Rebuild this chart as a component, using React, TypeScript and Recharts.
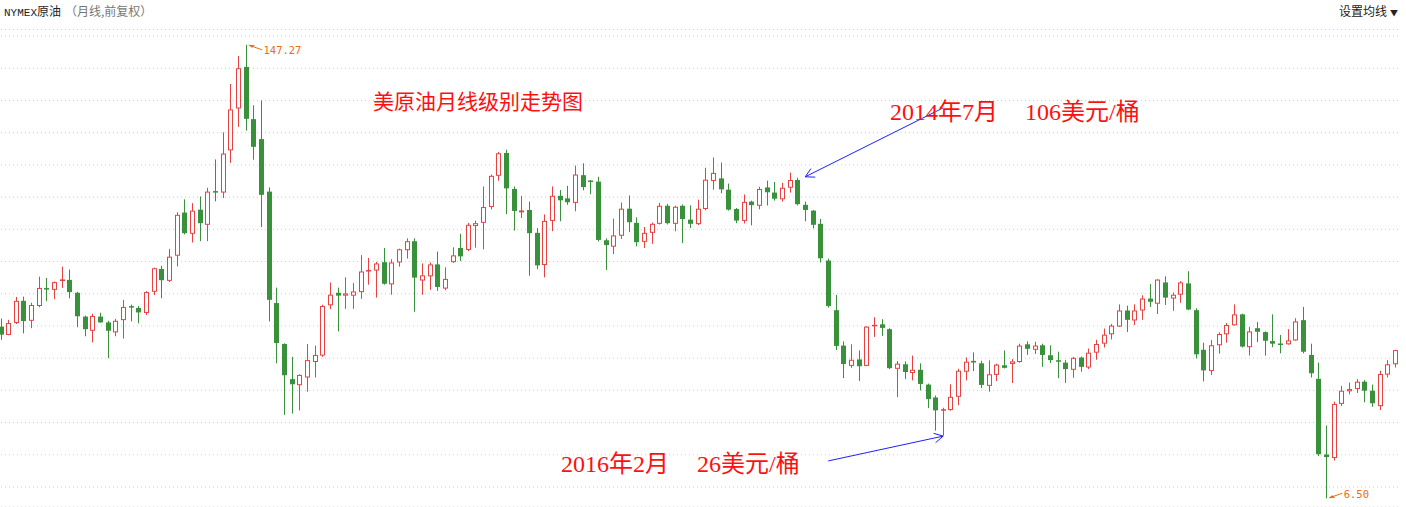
import { ComposedChart, Bar, XAxis, YAxis, CartesianGrid, ReferenceLine, ReferenceDot } from 'recharts';

// first candle is Nov 2005, one candle per month
const START_YEAR = 2005;
const START_MONTH = 11;

const open = [
  59.8, 57.2, 60.9, 67.8, 61.6, 66.2, 71.6, 71.2, 73.8, 74.3,
  70.3, 62.9, 58.5, 62.9, 61.1, 58.0, 61.8, 66.0, 65.6, 64.0,
  70.6, 77.7, 74.0, 81.8, 95.2, 88.6, 96.1, 91.4, 101.7, 101.4,
  114.5, 127.5, 140.4, 124.2, 118.0, 101.7, 67.1, 54.4, 43.5, 41.6,
  44.0, 48.8, 50.8, 66.4, 70.3, 69.4, 69.4, 70.5, 76.9, 77.2,
  79.8, 72.9, 79.7, 83.5, 86.3, 74.1, 75.4, 79.1, 71.6, 79.8,
  84.2, 83.6, 91.0, 92.0, 96.9, 106.6, 113.7, 102.5, 95.1, 96.0,
  88.9, 78.9, 92.6, 100.4, 99.6, 98.2, 106.8, 105.0, 104.8, 86.6,
  84.6, 88.0, 96.4, 92.0, 86.1, 88.9, 91.7, 97.3, 91.7, 97.3,
  93.0, 91.6, 96.3, 105.0, 105.8, 102.3, 96.3, 92.6, 98.6, 97.3,
  103.0, 101.4, 99.3, 102.9, 105.3, 97.6, 95.8, 91.7, 80.3, 64.9,
  53.9, 47.6, 49.6, 47.6, 59.8, 60.5, 59.0, 46.7, 48.1, 45.4,
  46.4, 41.8, 37.8, 33.6, 33.9, 38.0, 45.8, 49.0, 48.4, 41.4,
  44.8, 47.8, 48.2, 48.8, 54.3, 52.6, 54.0, 50.9, 49.2, 48.6,
  46.4, 50.2, 47.1, 51.7, 54.5, 57.4, 59.8, 64.8, 61.7, 64.8,
  68.5, 66.9, 73.5, 68.5, 69.7, 73.2, 64.9, 52.6, 46.0, 54.0,
  57.4, 60.2, 63.6, 53.4, 59.3, 58.1, 55.3, 54.4, 54.3, 55.5,
  61.8, 51.0, 43.6, 20.1, 19.0, 35.8, 39.7, 40.4, 42.7, 39.9,
  35.1, 44.9, 48.1,
];

const high = [
  62.3, 61.9, 69.0, 69.1, 67.2, 75.3, 74.9, 73.8, 78.4, 77.5,
  70.6, 63.2, 63.8, 64.1, 61.6, 62.2, 68.1, 66.6, 66.2, 70.8,
  78.1, 78.7, 83.9, 95.3, 99.3, 98.1, 100.2, 102.9, 111.7, 120.1,
  135.1, 143.8, 147.27, 128.5, 130.0, 103.0, 71.9, 54.6, 50.4, 45.0,
  54.4, 53.9, 66.6, 73.5, 71.9, 75.1, 73.3, 82.0, 81.1, 79.9,
  84.2, 80.7, 84.0, 87.2, 87.2, 79.4, 79.7, 83.1, 78.2, 84.4,
  88.6, 92.0, 92.7, 103.3, 107.0, 114.0, 114.7, 103.3, 100.4, 98.6,
  90.4, 94.6, 103.3, 102.2, 103.5, 109.8, 110.5, 105.2, 106.3, 87.2,
  93.3, 98.3, 100.5, 93.7, 90.7, 92.1, 98.2, 97.9, 97.3, 97.7,
  97.4, 99.2, 109.1, 112.3, 110.7, 104.2, 96.6, 100.8, 98.9, 103.2,
  105.1, 104.7, 104.4, 107.6, 106.0, 98.6, 96.0, 93.2, 80.9, 69.6,
  55.2, 54.3, 52.4, 59.9, 62.7, 62.1, 59.3, 49.1, 49.0, 50.8,
  48.4, 42.1, 38.4, 34.6, 41.9, 46.7, 50.2, 51.8, 49.2, 49.3,
  48.3, 52.4, 49.7, 54.5, 55.2, 55.1, 54.5, 54.0, 52.0, 49.4,
  50.4, 50.5, 53.0, 55.7, 59.2, 60.6, 66.7, 66.3, 66.7, 69.5,
  73.0, 74.5, 75.4, 70.4, 73.9, 77.0, 65.5, 54.8, 55.6, 58.0,
  60.9, 66.7, 63.8, 59.7, 61.2, 58.3, 63.6, 57.2, 59.0, 62.4,
  65.9, 54.5, 48.6, 29.1, 36.5, 41.4, 42.4, 43.5, 43.2, 41.8,
  46.1, 49.4, 52.6,
];

const low = [
  55.7, 57.1, 60.6, 57.7, 59.3, 65.8, 67.7, 68.3, 71.8, 68.6,
  59.6, 56.8, 54.9, 61.0, 50.0, 56.8, 56.1, 61.4, 60.8, 63.4,
  69.6, 68.6, 73.6, 78.5, 88.4, 85.9, 86.3, 86.3, 98.7, 99.7,
  110.6, 121.8, 120.6, 111.6, 90.7, 61.4, 48.4, 32.4, 32.8, 33.8,
  39.6, 44.0, 50.4, 65.2, 58.3, 65.3, 65.3, 68.4, 72.8, 68.8,
  72.8, 69.7, 78.4, 80.9, 64.4, 69.7, 71.2, 70.9, 71.1, 79.6,
  80.1, 83.2, 84.3, 83.8, 96.2, 105.1, 94.7, 89.6, 93.5, 75.6,
  77.6, 75.1, 89.4, 92.5, 97.6, 95.6, 102.1, 100.9, 86.2, 77.4,
  82.3, 87.0, 89.1, 84.7, 84.2, 85.5, 91.5, 91.5, 89.4, 85.7,
  90.4, 91.3, 95.9, 102.3, 101.2, 95.8, 91.9, 91.8, 91.2, 96.2,
  97.4, 98.9, 98.6, 101.4, 97.4, 92.5, 90.3, 79.7, 65.7, 52.5,
  43.8, 47.0, 42.9, 47.5, 56.6, 56.9, 46.6, 37.9, 43.5, 43.1,
  40.0, 34.5, 27.5, 26.0, 33.7, 35.4, 43.1, 46.0, 40.7, 39.6,
  42.9, 46.8, 42.3, 48.6, 51.0, 51.3, 47.3, 48.5, 43.8, 42.3,
  43.9, 45.8, 46.6, 49.5, 53.3, 55.8, 59.7, 58.1, 60.3, 61.9,
  65.9, 63.7, 66.5, 64.7, 67.2, 64.9, 49.9, 42.8, 44.8, 51.4,
  54.8, 60.1, 53.3, 50.8, 55.0, 50.8, 53.4, 51.5, 54.2, 55.4,
  51.5, 44.0, 19.6, 6.5, 18.2, 35.1, 38.8, 39.2, 36.3, 34.9,
  33.9, 44.0, 47.1,
];

const close = [
  57.3, 60.9, 67.8, 61.5, 66.5, 71.8, 71.3, 73.6, 74.3, 70.5,
  63.0, 59.0, 63.1, 61.1, 58.5, 61.6, 65.9, 65.8, 64.2, 70.5,
  77.9, 74.2, 81.5, 94.5, 88.8, 95.8, 91.9, 101.7, 101.6, 113.5,
  127.2, 140.0, 124.3, 115.6, 100.7, 68.1, 54.7, 44.7, 41.9, 44.8,
  49.4, 51.0, 66.2, 69.7, 69.4, 70.1, 70.7, 76.9, 77.2, 79.4,
  73.1, 79.7, 83.8, 86.3, 75.0, 75.7, 79.1, 72.1, 74.6, 81.9,
  81.6, 91.4, 91.9, 96.9, 106.6, 113.6, 102.7, 95.7, 95.7, 88.8,
  78.8, 92.6, 100.4, 99.0, 98.4, 107.0, 103.1, 104.8, 86.7, 85.1,
  88.1, 96.4, 92.2, 86.0, 88.9, 91.7, 97.3, 91.9, 97.0, 93.2,
  91.7, 96.4, 105.4, 107.5, 102.4, 96.1, 92.7, 98.5, 97.5, 102.5,
  101.5, 99.5, 102.9, 105.3, 97.8, 96.0, 91.4, 81.0, 66.2, 53.8,
  48.2, 49.5, 47.5, 59.8, 60.2, 59.4, 46.9, 48.3, 45.7, 46.4,
  42.0, 37.3, 33.8, 34.0, 38.0, 46.1, 48.9, 48.5, 41.7, 45.0,
  48.0, 47.0, 49.0, 53.9, 52.9, 53.9, 51.0, 49.4, 48.8, 46.6,
  50.1, 47.3, 51.7, 54.4, 57.3, 60.1, 64.8, 61.9, 64.8, 68.5,
  67.5, 74.4, 68.8, 69.7, 73.5, 65.1, 51.2, 46.2, 54.0, 57.5,
  60.3, 63.6, 53.6, 58.3, 58.2, 55.4, 54.5, 54.3, 55.5, 61.4,
  52.0, 45.3, 20.2, 19.3, 35.8, 39.9, 40.4, 42.7, 39.9, 36.0,
  45.1, 48.1, 52.5,
];

const gridTicks = [10, 20, 30, 40, 50, 60, 70, 80, 90, 100, 110, 120, 130, 140, 150];

const months = open.map((_, i) => {
  const m = START_MONTH - 1 + i;
  return `${START_YEAR + Math.floor(m / 12)}-${String((m % 12) + 1).padStart(2, '0')}`;
});

const data = months.map((month, i) => ({
  month,
  open: open[i],
  high: high[i],
  low: low[i],
  close: close[i],
}));

const UP = '#e8413f';
const DOWN = '#3a913c';
const MARK = '#f06a10';

// one candle: the bar spans low..high, open/close placed on the same pixel scale
function Candle(props: any) {
  const { x, y, width, height, payload } = props;
  if (x == null || y == null) return null;
  const top = Math.min(y, y + height);
  const bottom = Math.max(y, y + height);
  const cx = Math.round(x + width / 2) + 0.5;
  const range = payload.high - payload.low;
  const k = range > 0 ? (bottom - top) / range : 0;
  const yo = top + (payload.high - payload.open) * k;
  const yc = top + (payload.high - payload.close) * k;
  const up = payload.close >= payload.open;
  const color = up ? UP : DOWN;
  const bTop = Math.min(yo, yc);
  const bH = Math.abs(yc - yo);
  return (
    <g>
      <line x1={cx} y1={top} x2={cx} y2={bottom} stroke={color} strokeWidth={1} />
      {bH < 2 ? (
        <rect x={cx - 2.5} y={bTop - 0.5} width={5} height={Math.max(bH, 1.5)} fill={color} />
      ) : up ? (
        <rect x={cx - 2} y={bTop + 0.5} width={4} height={bH - 1} fill="#fff" stroke={color} strokeWidth={1} />
      ) : (
        <rect x={cx - 2.5} y={bTop} width={5} height={bH} fill={color} />
      )}
    </g>
  );
}

function Arrow(props: any) {
  const { x1, y1, x2, y2 } = props;
  const ang = Math.atan2(y1 - y2, x1 - x2);
  const len = 10;
  const s = 0.5;
  const a = `${x2 + len * Math.cos(ang - s)},${y2 + len * Math.sin(ang - s)}`;
  const b = `${x2 + len * Math.cos(ang + s)},${y2 + len * Math.sin(ang + s)}`;
  return (
    <g stroke="#1f1fff" strokeWidth={1} fill="none">
      <line x1={x1} y1={y1} x2={x2} y2={y2} />
      <polyline points={`${a} ${x2},${y2} ${b}`} />
    </g>
  );
}

function HighMark(props: any) {
  const { cx, cy } = props;
  return (
    <g>
      <polygon points={`${cx + 2},${cy} ${cx + 9},${cy + 0.5} ${cx + 6},${cy + 3}`} fill={MARK} />
      <line x1={cx + 6} y1={cy + 1.5} x2={cx + 16} y2={cy + 5} stroke={MARK} strokeWidth={1} />
      <text x={cx + 17.5} y={cy + 9.5} fill={MARK} fontSize={10.5} fontFamily="DejaVu Sans Mono, monospace">
        147.27
      </text>
    </g>
  );
}

function LowMark(props: any) {
  const { cx, cy } = props;
  return (
    <g>
      <polygon points={`${cx + 2},${cy} ${cx + 9},${cy - 0.5} ${cx + 6},${cy - 3}`} fill={MARK} />
      <line x1={cx + 6} y1={cy - 1.5} x2={cx + 16} y2={cy - 5} stroke={MARK} strokeWidth={1} />
      <text x={cx + 17.5} y={cy} fill={MARK} fontSize={10.5} fontFamily="DejaVu Sans Mono, monospace">
        6.50
      </text>
    </g>
  );
}

const noteStyle: React.CSSProperties = {
  position: 'absolute',
  color: '#ff1010',
  fontSize: 24,
  lineHeight: '26px',
  whiteSpace: 'pre',
  fontFamily: '"Liberation Serif", "Noto Sans CJK SC", serif',
};

export default function App() {
  return (
    <div
      style={{
        position: 'absolute',
        left: 0,
        top: 0,
        width: 1406,
        height: 507,
        overflow: 'hidden',
        background: '#fff',
        fontFamily: '"Noto Sans CJK SC", sans-serif',
      }}
    >
      <div style={{ position: 'absolute', left: -2.53, top: 0 }}>
        <ComposedChart width={1402} height={507} data={data} margin={{ top: 29.56, right: 0, bottom: 0, left: 0 }}>
          <CartesianGrid horizontal vertical={false} stroke="#cccccc" strokeDasharray="1 3" />
          <XAxis dataKey="month" type="category" hide />
          <YAxis domain={[3.8, 152]} ticks={gridTicks} interval={0} hide allowDataOverflow />
          <Bar dataKey={(d: any) => [d.low, d.high]} barSize={5} shape={<Candle />} isAnimationActive={false} />
          <ReferenceLine
            segment={[{ x: months[123], y: 127.7 }, { x: months[105], y: 106.3 }]}
            shape={<Arrow />}
            ifOverflow="visible"
          />
          <ReferenceLine
            segment={[{ x: months[108], y: 18.1 }, { x: months[123], y: 25.8 }]}
            shape={<Arrow />}
            ifOverflow="visible"
          />
          <ReferenceDot x={months[32]} y={147.27} r={0} shape={<HighMark />} ifOverflow="visible" />
          <ReferenceDot x={months[173]} y={6.5} r={0} shape={<LowMark />} ifOverflow="visible" />
        </ComposedChart>
      </div>

      <div style={{ position: 'absolute', left: 4, top: 3, fontSize: 12, lineHeight: '16px', color: '#222' }}>
        <span style={{ fontFamily: '"Liberation Mono", monospace', fontSize: 11 }}>NYMEX</span>
        <span>原油</span>
        <span style={{ color: '#777', marginLeft: 4 }}>（月线,前复权）</span>
      </div>
      <div style={{ position: 'absolute', right: 8, top: 3, fontSize: 12, lineHeight: '16px', color: '#222' }}>
        设置均线<span style={{ fontSize: 8, marginLeft: 3, verticalAlign: 'middle' }}>▼</span>
      </div>

      <div
        style={{
          position: 'absolute',
          left: 373,
          top: 88,
          fontSize: 21,
          lineHeight: '24px',
          color: '#ff1010',
          fontFamily: '"Noto Sans CJK SC", sans-serif',
        }}
      >
        美原油月线级别走势图
      </div>
      <div style={{ ...noteStyle, left: 890, top: 99 }}>
        2014年7月<span style={{ marginLeft: 27 }}>106美元/桶</span>
      </div>
      <div style={{ ...noteStyle, left: 561, top: 451 }}>
        2016年2月<span style={{ marginLeft: 28 }}>26美元/桶</span>
      </div>
    </div>
  );
}
